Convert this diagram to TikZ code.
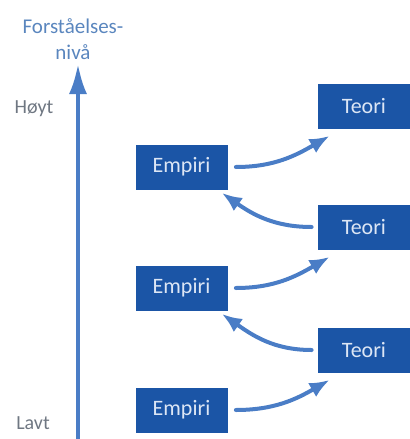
\documentclass[tikz,border=0pt]{standalone}
\usepackage{fontspec}
\setmainfont{Carlito}
\usepackage{tikz}
\usetikzlibrary{arrows.meta}
\definecolor{boxblue}{HTML}{1B55A6}
\definecolor{boxtext}{HTML}{DCE6F5}
\definecolor{arrowblue}{HTML}{4A7DC6}
\definecolor{labelblue}{HTML}{5A86BE}
\definecolor{labelgray}{HTML}{6F7782}
\tikzset{
  StageBox/.style={
    fill=boxblue, text=boxtext,
    minimum width=46pt, minimum height=22.5pt,
    inner sep=0pt, font=\fontsize{11}{13}\selectfont
  },
  Flow/.style={
    draw=arrowblue, line width=2pt,
    -{Latex[length=10pt,width=8pt]}
  },
  AxisLbl/.style={text=labelgray, font=\fontsize{10}{12}\selectfont}
}

\begin{document}
\begin{tikzpicture}[x=0.5pt, y=-0.5pt, line cap=round, line join=round]
  \useasboundingbox (0,0) rectangle (409,439);

  % level axis
  \coordinate (axbot) at (78,439);
  \coordinate (axtop) at (78,64);
  \draw[draw=arrowblue, line width=2pt, -{Latex[length=15pt,width=9pt]}] (axbot)--(axtop);
  \node[align=center, text=labelblue, font=\fontsize{10.5}{13}\selectfont] (title) at (73,39) {Forståelses-\\nivå};
  \node[AxisLbl] (high) at (34,109) {Høyt};
  \node[AxisLbl] (low) at (33,423) {Lavt};

  % empiri / teori boxes
  \node[StageBox] (emp1) at (181.5,410) {Empiri};
  \node[StageBox] (emp2) at (181.5,288) {Empiri};
  \node[StageBox] (emp3) at (181.5,167) {Empiri};
  \node[StageBox] (teo1) at (364,350) {Teori};
  \node[StageBox] (teo2) at (364,227) {Teori};
  \node[StageBox] (teo3) at (364,106) {Teori};

  % upward steps
  \draw[Flow] ([xshift=4pt]emp1.east) to[out=0, in=210] ([xshift=6pt,yshift=-3.5pt]teo1.south west);
  \draw[Flow] ([xshift=4pt]emp2.east) to[out=0, in=210] ([xshift=6pt,yshift=-3.5pt]teo2.south west);
  \draw[Flow] ([xshift=4pt]emp3.east) to[out=0, in=210] ([xshift=6pt,yshift=-3.5pt]teo3.south west);
  \draw[Flow] ([xshift=-3pt]teo1.west) to[out=180, in=-35] ([xshift=-3pt,yshift=-1.5pt]emp2.south east);
  \draw[Flow] ([xshift=-3pt]teo2.west) to[out=180, in=-35] ([xshift=-3pt,yshift=-1.5pt]emp3.south east);
\end{tikzpicture}
\end{document}
